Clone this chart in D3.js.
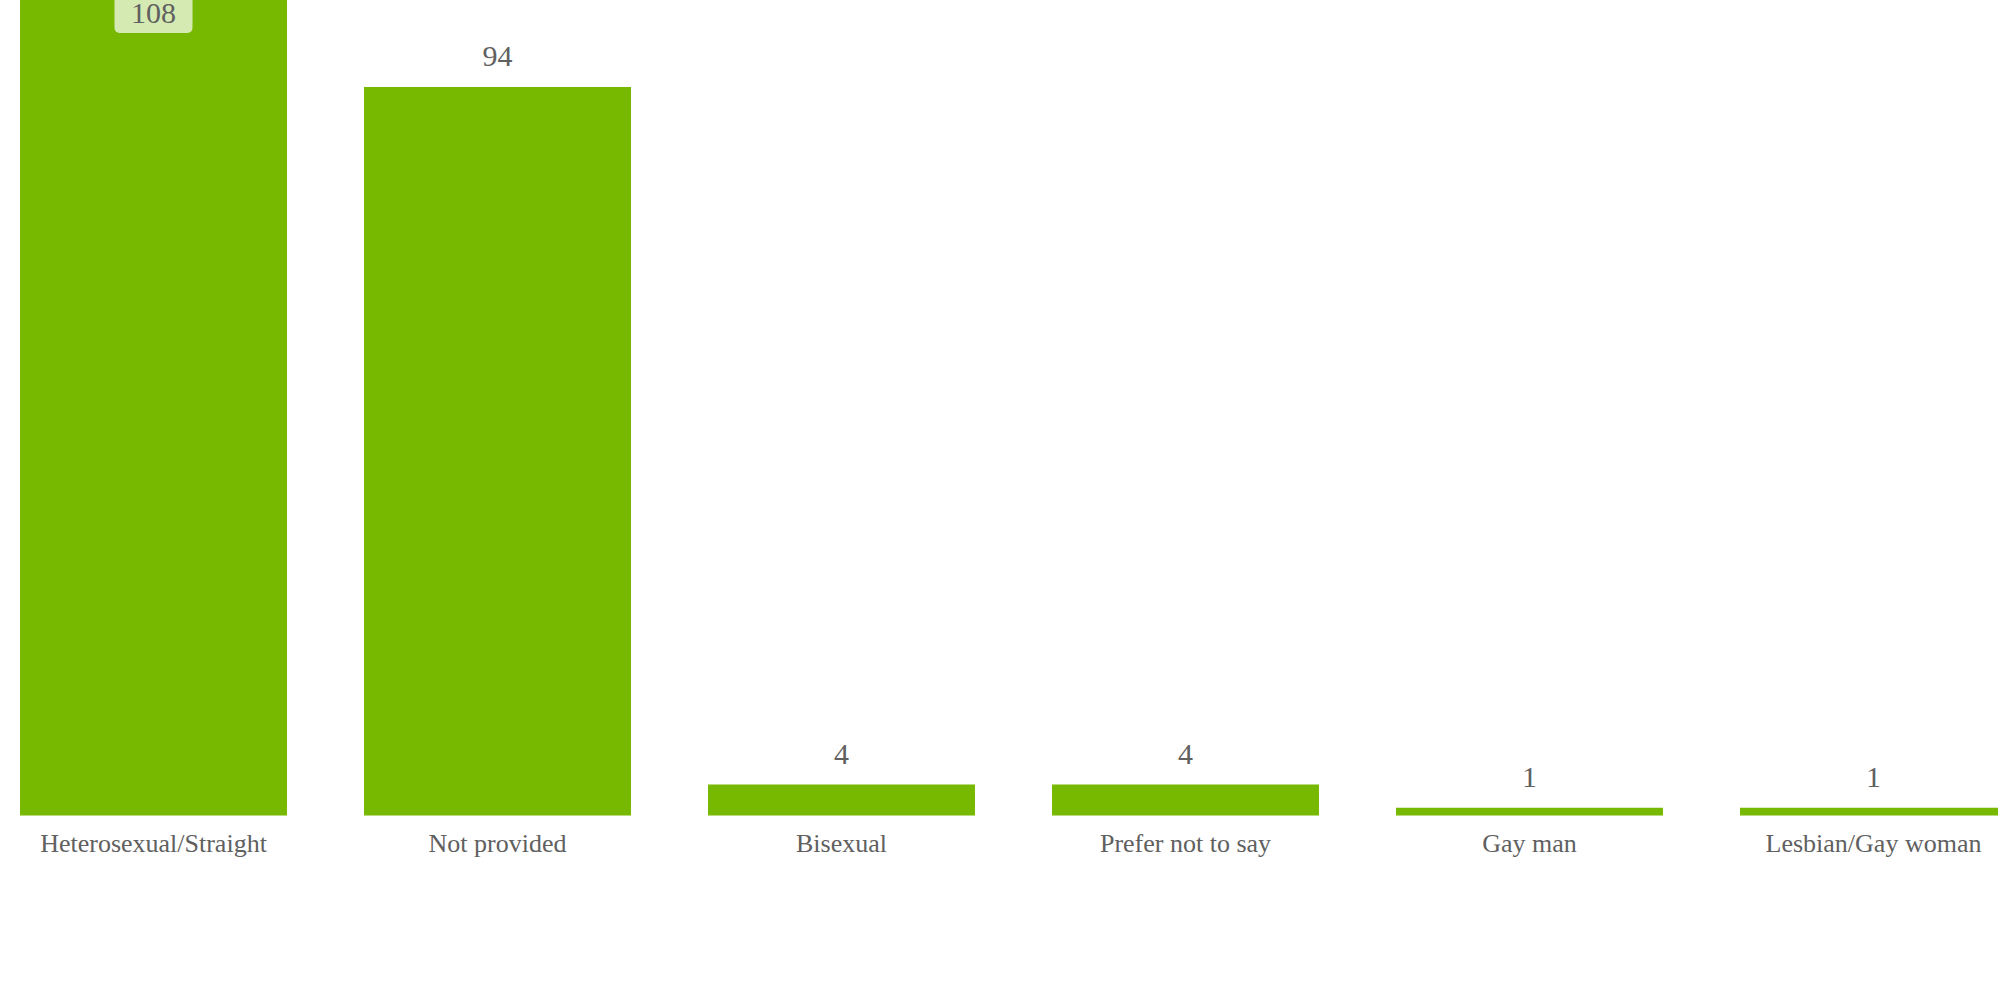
<!DOCTYPE html>
<html>
<head>
<meta charset="utf-8">
<script src="https://cdn.jsdelivr.net/npm/d3@7"></script>
<style>
  html, body { margin: 0; padding: 0; background: #ffffff; overflow: hidden; }
  svg { display: block; }
</style>
</head>
<body>
<svg id="chart" width="1998" height="982"></svg>
<script>
const categories = ["Heterosexual/Straight", "Not provided", "Bisexual", "Prefer not to say", "Gay man", "Lesbian/Gay woman"];
const values = [108, 94, 4, 4, 1, 1];

const W = 1998, H = 982;
const svg = d3.select("#chart");
const baseline = 815.5;

const x = d3.scaleBand()
  .domain(categories)
  .range([-18.5, 2045.5])
  .paddingInner(0.224)
  .paddingOuter(0.112);

const y = d3.scaleLinear()
  .domain([0, 100])
  .range([baseline, baseline - 775]);

const green = "#76b900";
const textColor = "#606060";
const font = "'Liberation Serif', 'Times New Roman', serif";

svg.append("g").selectAll("rect")
  .data(values)
  .join("rect")
  .attr("x", (d, i) => x(categories[i]))
  .attr("y", d => y(d))
  .attr("width", x.bandwidth())
  .attr("height", d => baseline - y(d))
  .attr("fill", green);

// value labels
const labels = svg.append("g");
values.forEach((v, i) => {
  const cx = x(categories[i]) + x.bandwidth() / 2;
  let top = y(v);
  if (top - 21 < 25) {
    // clamped inside plot, with background box
    const bw = 78, bh = 43;
    labels.append("rect")
      .attr("x", cx - bw / 2)
      .attr("y", 33 - bh)
      .attr("width", bw)
      .attr("height", bh)
      .attr("rx", 5)
      .attr("fill", "#d5eab3");
    labels.append("text")
      .attr("x", cx)
      .attr("y", 23)
      .attr("text-anchor", "middle")
      .attr("font-family", font)
      .attr("font-size", 30)
      .attr("fill", textColor)
      .text(v);
  } else {
    labels.append("text")
      .attr("x", cx)
      .attr("y", top - 21)
      .attr("text-anchor", "middle")
      .attr("font-family", font)
      .attr("font-size", 30)
      .attr("fill", textColor)
      .text(v);
  }
});

// category axis labels
const xAxis = d3.axisBottom(x).tickSize(0).tickPadding(0);
const gx = svg.append("g").attr("transform", `translate(0,${baseline})`).call(xAxis);
gx.select(".domain").remove();
gx.selectAll("text")
  .attr("dy", null)
  .attr("y", 36)
  .attr("font-family", font)
  .attr("font-size", 26)
  .attr("fill", textColor);
</script>
</body>
</html>
